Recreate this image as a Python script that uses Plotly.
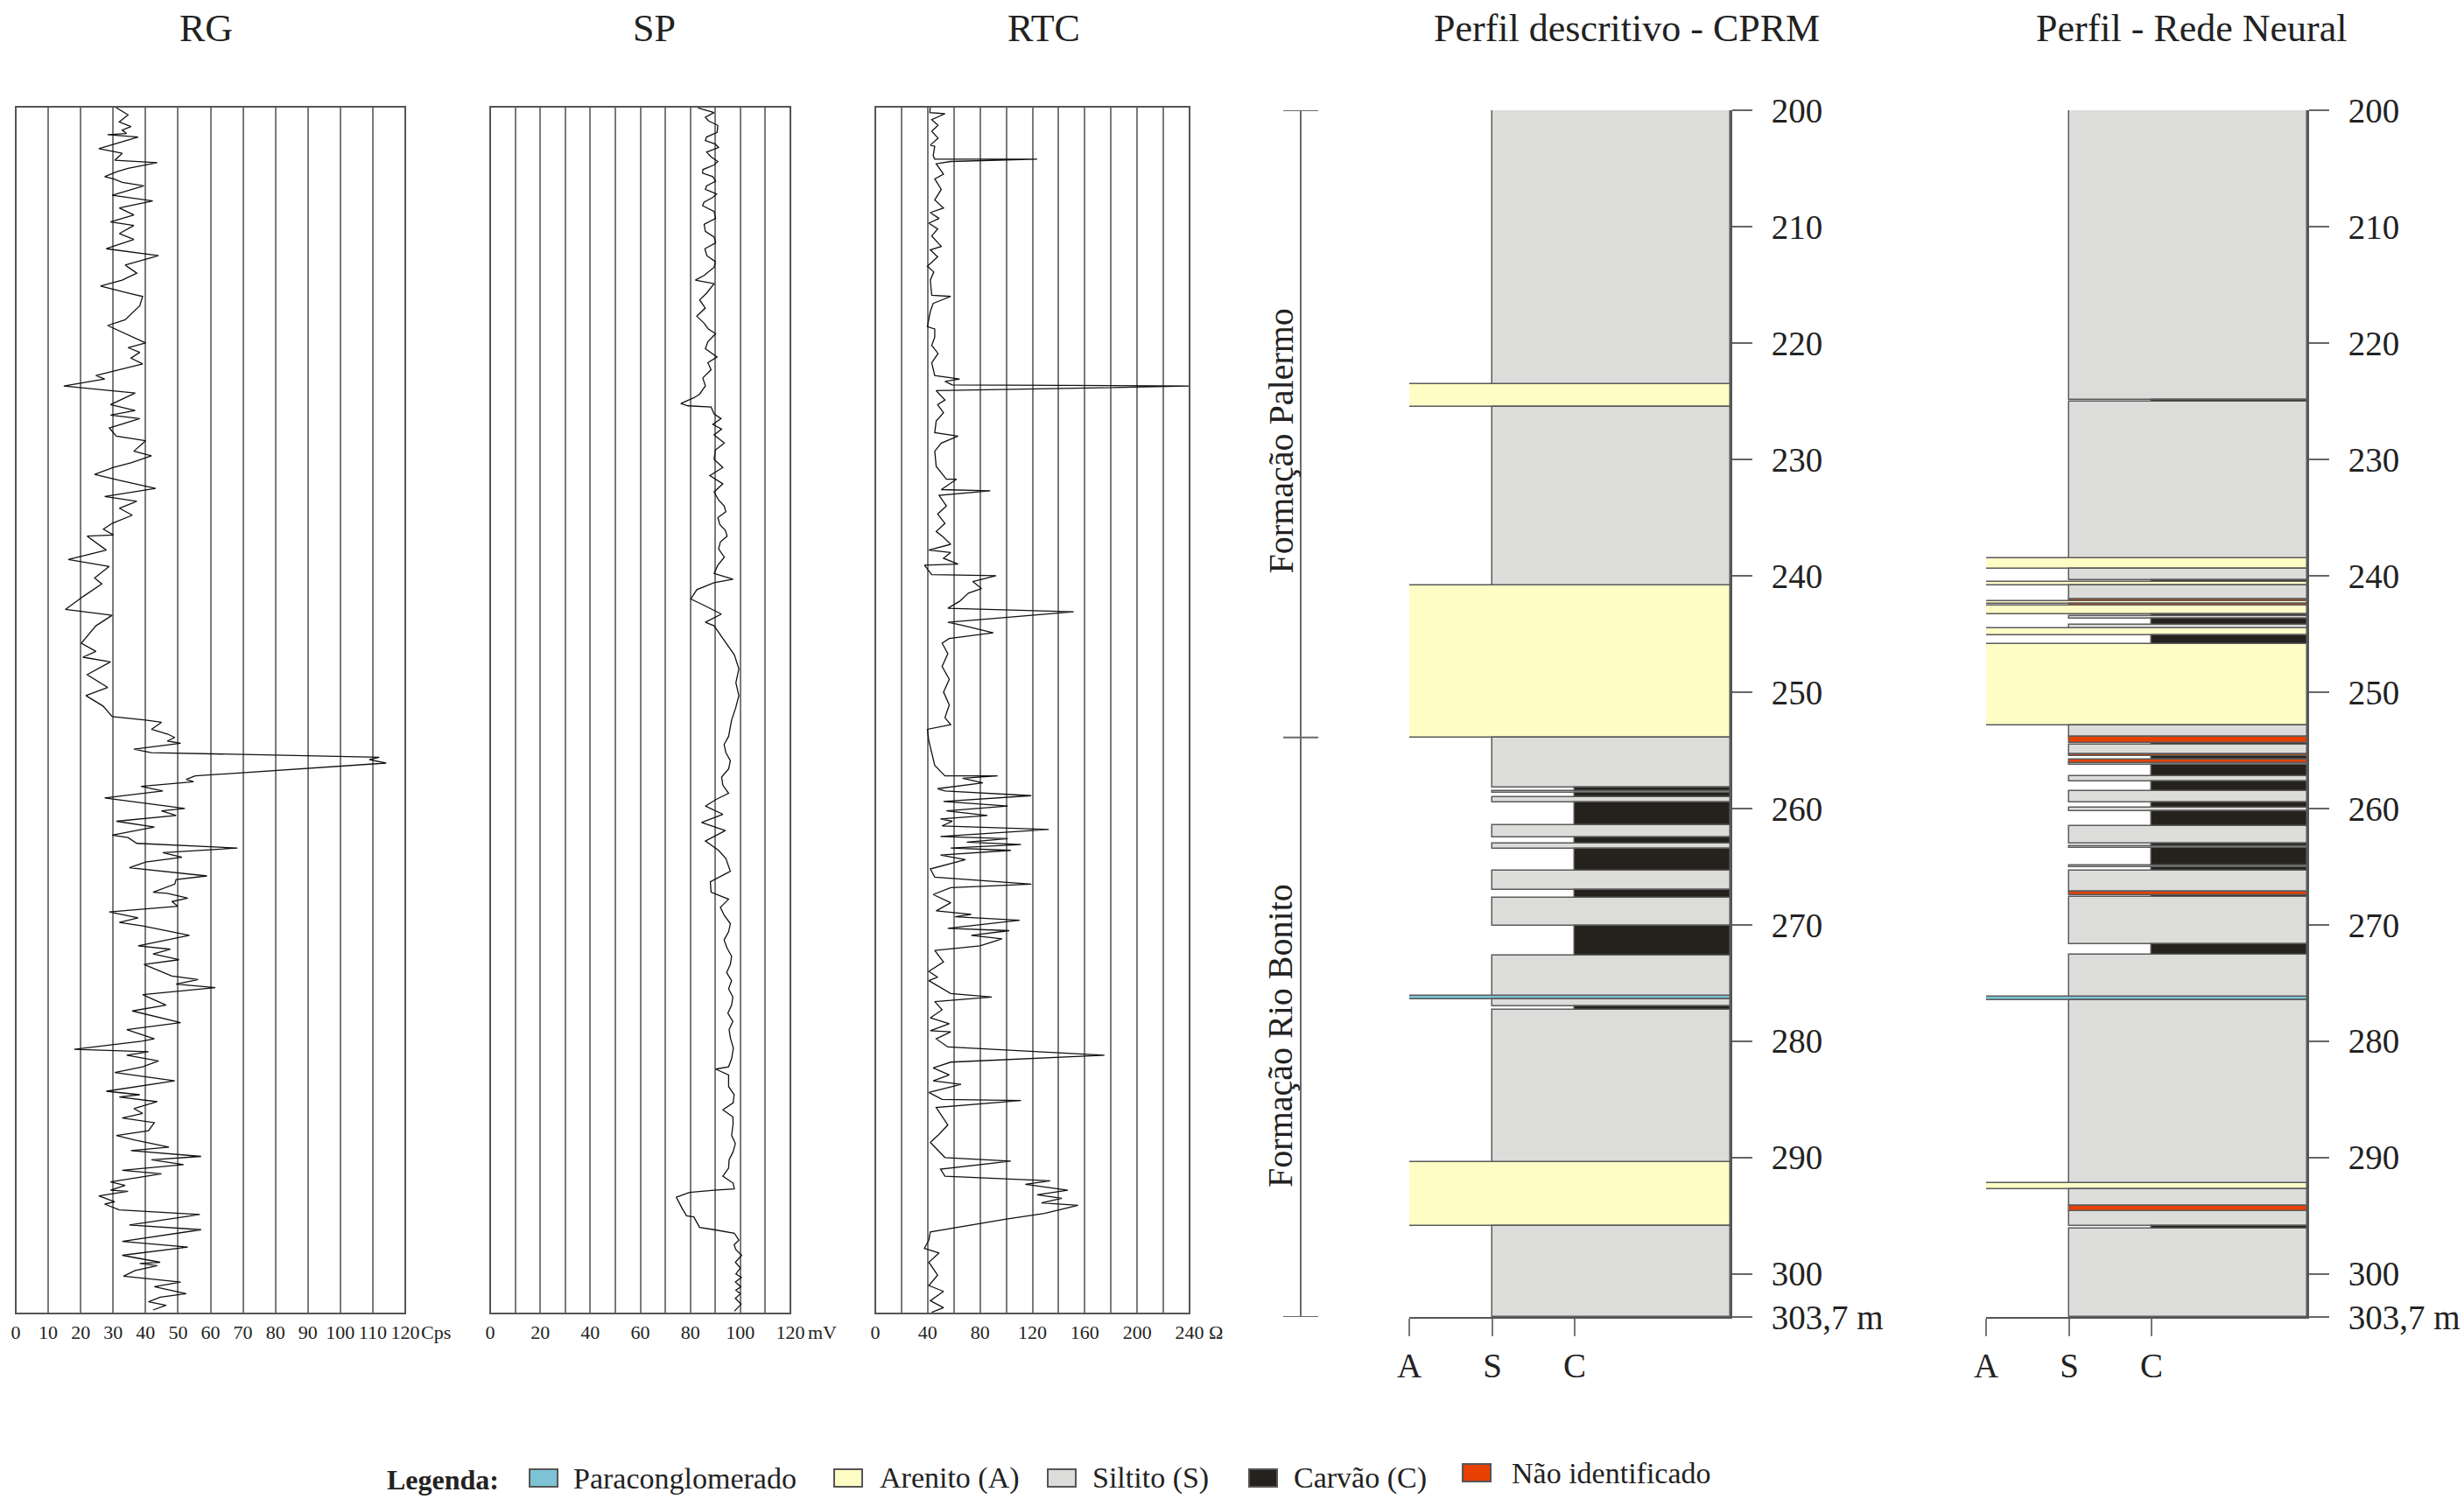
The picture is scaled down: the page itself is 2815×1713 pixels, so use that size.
import plotly.graph_objects as go

W, H = 2815, 1713
FONT = "Liberation Serif"
INK = "#222222"

# ---------------- log data (depth m, value) ----------------
rg_depth = [200.0, 200.7, 201.3, 201.7, 202.0, 202.3, 202.4, 202.6, 203.6, 204.0, 204.6, 204.8, 205.3, 205.6,
            206.0, 206.2, 206.5, 206.8, 207.6, 208.1, 208.7, 209.3, 209.9, 210.2, 210.9, 211.4, 212.2, 212.8,
            213.6, 214.3, 214.9, 215.4, 216.0, 216.3, 217.1, 218.3, 218.8, 220.3, 220.7, 221.1, 221.6, 222.1,
            223.1, 223.4, 224.0, 224.6, 225.6, 226.1, 226.5, 226.8, 227.6, 228.3, 228.7, 229.6, 230.0, 230.6,
            231.0, 231.6, 232.1, 232.8, 233.5, 233.9, 234.5, 235.1, 235.8, 236.3, 236.8, 236.9, 238.1, 238.9,
            239.5, 240.5, 241.0, 242.1, 243.2, 243.7, 244.6, 246.1, 246.8, 247.3, 247.7, 248.8, 249.9, 250.6,
            251.5, 252.4, 252.7, 252.9, 253.5, 253.9, 254.2, 254.5, 254.7, 255.2, 255.5, 255.9, 256.1, 256.4,
            257.5, 257.8, 258.0, 258.4, 258.8, 259.4, 260.3, 260.5, 260.9, 261.4, 261.9, 262.6, 262.8, 263.3,
            263.7, 264.1, 264.5, 264.9, 265.4, 265.8, 266.1, 266.4, 266.8, 267.5, 267.6, 268.0, 268.3, 268.7,
            269.2, 269.7, 270.1, 270.4, 271.2, 272.1, 272.4, 272.8, 273.3, 273.7, 274.7, 275.0, 275.4, 275.7,
            276.3, 277.2, 277.7, 278.7, 279.3, 280.1, 280.3, 281.0, 281.2, 281.5, 282.0, 282.5, 283.0, 283.7,
            284.6, 284.9, 285.1, 285.5, 286.1, 286.5, 286.9, 287.3, 288.0, 288.4, 288.8, 289.4, 289.7, 290.2,
            290.5, 290.9, 291.4, 291.7, 292.4, 292.7, 293.1, 293.2, 293.6, 294.1, 294.3, 294.8, 295.2, 296.1,
            296.5, 297.5, 298.0, 298.7, 299.3, 299.4, 299.6, 300.0, 300.5, 301.0, 301.4, 302.0, 302.3, 302.7,
            303.0, 303.4]
rg_value = [30.5, 34.6, 31.9, 35.5, 32.8, 34.1, 28.3, 37.7, 25.6, 32.8, 30.5, 43.6, 34.6, 31.0,
            27.4, 30.1, 32.8, 39.5, 29.7, 42.2, 31.9, 36.4, 29.2, 36.4, 31.9, 36.4, 27.9, 44.0,
            33.7, 37.3, 32.8, 26.1, 34.6, 39.1, 38.2, 33.7, 28.3, 40.0, 34.6, 38.2, 35.5, 39.1,
            24.7, 27.4, 14.8, 36.8, 29.2, 36.8, 29.2, 38.2, 28.8, 31.0, 40.0, 36.4, 41.8, 35.5,
            30.1, 24.3, 31.9, 43.1, 27.4, 37.3, 31.9, 35.9, 29.7, 27.0, 30.1, 22.0, 27.9, 16.2,
            28.8, 24.3, 26.5, 20.7, 15.3, 29.7, 24.7, 20.2, 24.7, 20.7, 29.2, 22.0, 28.3, 21.6,
            26.9, 29.7, 40.0, 44.9, 41.8, 46.7, 49.0, 46.7, 50.8, 36.4, 41.8, 112.0, 108.9, 114.1,
            55.3, 52.5, 54.8, 38.6, 45.3, 27.4, 52.1, 44.9, 49.4, 31.0, 42.7, 29.7, 34.6, 37.3,
            68.3, 45.3, 51.2, 40.0, 35.0, 49.0, 58.9, 49.4, 49.0, 42.3, 46.7, 53.0, 48.1, 49.9,
            28.8, 37.7, 31.9, 39.1, 53.5, 37.7, 47.6, 42.3, 50.3, 39.5, 48.1, 56.2, 49.4, 61.5,
            39.1, 46.3, 35.9, 50.8, 34.2, 42.7, 38.7, 18.0, 40.9, 34.2, 44.0, 39.1, 30.5, 49.0,
            27.9, 38.2, 31.9, 43.6, 36.4, 39.1, 32.8, 42.7, 40.9, 31.0, 36.8, 47.2, 35.5, 57.1,
            41.8, 51.7, 32.8, 44.9, 29.2, 33.7, 29.2, 34.6, 25.6, 30.5, 27.4, 31.9, 56.7, 35.0,
            57.1, 32.8, 53.0, 32.8, 44.5, 38.2, 43.6, 36.8, 33.2, 50.8, 42.7, 52.5, 44.5, 40.9,
            46.3, 42.3]

sp_depth = [200.1, 200.5, 200.9, 201.2, 201.6, 202.2, 202.6, 202.9, 203.2, 203.5, 203.9, 204.3, 204.7, 205.0,
            205.4, 205.7, 206.0, 206.4, 206.8, 207.1, 207.5, 207.8, 208.2, 208.5, 209.0, 209.6, 210.1, 210.7,
            211.2, 211.7, 212.2, 212.8, 213.3, 213.8, 214.5, 214.9, 215.2, 216.0, 216.6, 217.3, 218.0, 218.6,
            219.1, 219.5, 220.2, 220.8, 221.5, 222.0, 222.6, 223.3, 224.0, 224.7, 225.0, 225.5, 225.7, 225.8,
            226.4, 226.8, 227.3, 227.7, 228.2, 228.9, 229.5, 230.3, 231.0, 231.7, 232.4, 233.1, 233.8, 234.3,
            234.8, 235.3, 235.9, 236.4, 236.9, 237.4, 238.0, 238.7, 239.4, 240.1, 240.6, 240.9, 241.5, 242.3,
            242.9, 243.6, 244.3, 244.6, 245.7, 246.4, 247.1, 248.3, 249.5, 250.6, 251.6, 252.7, 254.1, 254.8,
            255.5, 256.2, 256.9, 257.6, 258.3, 259.0, 259.5, 260.1, 260.8, 261.5, 262.2, 263.1, 263.9, 264.6,
            265.7, 266.6, 267.5, 268.1, 268.8, 269.5, 270.2, 270.9, 271.6, 272.3, 273.0, 273.7, 274.4, 275.1,
            275.8, 276.5, 277.2, 277.9, 278.6, 279.3, 280.0, 280.9, 281.8, 282.5, 282.7, 283.2, 284.2, 284.9,
            285.6, 286.2, 286.8, 287.4, 288.4, 289.1, 289.8, 290.5, 291.2, 291.9, 292.5, 293.0, 293.1, 293.3,
            293.7, 294.7, 295.3, 295.4, 296.0, 296.3, 296.5, 296.8, 297.4, 297.8, 298.2, 298.7, 299.3, 299.8,
            300.3, 300.6, 301.0, 301.4, 301.7, 302.0, 302.4, 302.9, 303.5]
sp_value = [83.1, 89.5, 86.0, 87.2, 91.0, 90.7, 86.5, 86.0, 90.0, 91.3, 86.5, 88.3, 91.0, 89.5,
            85.0, 84.9, 89.0, 90.1, 86.5, 86.0, 90.5, 88.9, 85.5, 84.9, 89.5, 90.1, 85.5, 86.0,
            89.5, 90.1, 85.8, 86.6, 90.0, 89.5, 85.5, 82.0, 89.5, 86.6, 83.7, 86.0, 82.6, 85.5,
            87.2, 90.1, 87.0, 86.0, 90.7, 87.0, 88.3, 85.0, 86.0, 83.7, 81.5, 76.2, 79.1, 88.3,
            89.5, 92.3, 89.0, 92.5, 89.5, 93.6, 90.0, 89.5, 93.0, 87.8, 93.0, 89.5, 91.3, 93.5,
            94.2, 91.0, 91.8, 94.0, 94.7, 92.0, 91.3, 93.6, 91.0, 89.5, 97.1, 89.5, 82.6, 80.2,
            86.0, 92.4, 86.0, 89.5, 93.0, 95.3, 97.6, 99.4, 98.2, 99.4, 98.2, 96.5, 95.3, 93.5,
            94.2, 96.0, 95.3, 92.5, 93.0, 95.3, 90.5, 86.0, 93.0, 84.5, 94.0, 86.0, 91.3, 94.2,
            96.0, 88.0, 88.3, 95.3, 92.0, 93.6, 96.0, 95.3, 93.5, 94.7, 96.5, 96.0, 94.5, 96.5,
            95.3, 97.0, 96.5, 95.0, 97.0, 95.5, 96.0, 97.2, 96.5, 95.3, 90.1, 95.3, 95.3, 97.5,
            97.1, 93.0, 97.0, 97.1, 96.5, 98.0, 97.1, 95.5, 95.3, 93.0, 97.1, 97.6, 89.5, 79.7,
            74.4, 76.8, 78.5, 81.4, 83.1, 83.7, 89.5, 97.6, 99.4, 97.5, 98.2, 100.5, 98.0, 100.0,
            98.2, 100.4, 98.0, 100.2, 98.2, 100.0, 98.0, 100.3, 97.6]

rtc_depth = [200.0, 200.5, 200.6, 201.1, 201.6, 202.1, 202.7, 203.3, 203.4, 204.2, 204.5, 204.5, 204.7, 204.9,
             205.8, 206.2, 207.1, 208.0, 208.7, 209.1, 209.6, 210.0, 210.5, 211.1, 212.0, 212.3, 212.9, 213.7,
             214.2, 214.9, 216.2, 216.3, 216.9, 217.6, 218.9, 219.1, 219.8, 220.5, 221.2, 222.0, 223.1, 223.4,
             223.6, 223.9, 224.0, 224.4, 225.2, 225.6, 226.3, 227.0, 228.0, 228.3, 228.9, 229.6, 230.9, 232.0,
             232.0, 232.9, 233.0, 233.4, 234.3, 235.0, 235.8, 236.5, 237.0, 237.6, 238.1, 238.3, 238.8, 239.3,
             239.4, 240.2, 240.3, 240.8, 241.4, 241.8, 242.5, 243.1, 243.4, 244.3, 244.5, 245.2, 245.7, 246.1,
             247.0, 248.1, 249.2, 250.3, 251.4, 252.5, 253.1, 253.5, 254.5, 255.6, 256.6, 257.5, 257.5, 257.7,
             258.1, 258.6, 258.8, 259.2, 259.7, 260.1, 260.5, 260.9, 261.2, 261.4, 261.8, 262.1, 262.7, 262.9,
             263.2, 263.4, 263.7, 263.9, 264.3, 264.7, 265.5, 266.2, 266.8, 267.1, 267.7, 268.4, 269.1, 269.4,
             269.6, 269.9, 270.6, 270.8, 271.2, 271.5, 272.1, 272.5, 273.5, 274.3, 274.8, 275.1, 276.2, 276.5,
             276.9, 277.6, 278.3, 278.8, 279.4, 279.5, 280.1, 280.8, 281.5, 282.1, 282.6, 283.2, 283.7, 284.0,
             284.7, 285.3, 285.4, 286.0, 287.5, 288.3, 289.0, 290.3, 290.6, 291.3, 291.9, 292.3, 292.6, 293.1,
             293.5, 293.8, 294.2, 294.4, 295.1, 295.6, 296.7, 297.4, 298.1, 298.5, 299.3, 300.4, 301.3, 301.8,
             302.6, 303.2, 303.6]
rtc_value = [42.0, 41.6, 53.2, 43.1, 47.9, 43.1, 47.9, 42.0, 45.4, 44.2, 45.4, 123.6, 57.6, 46.5,
             52.1, 45.4, 50.4, 45.4, 52.1, 42.0, 48.7, 40.9, 47.6, 43.1, 50.4, 42.0, 47.6, 39.8,
             44.7, 42.0, 43.1, 57.6, 44.2, 42.0, 39.8, 45.4, 45.4, 43.1, 47.9, 43.1, 45.4, 64.4,
             53.2, 58.8, 242.0, 46.5, 53.2, 47.6, 52.1, 46.5, 45.4, 63.2, 50.4, 45.4, 46.5, 54.3,
             62.1, 50.4, 87.8, 48.7, 54.3, 47.6, 53.2, 46.5, 52.1, 57.6, 40.9, 57.6, 52.1, 63.2,
             37.5, 43.1, 92.3, 74.4, 81.1, 71.1, 64.4, 55.4, 151.5, 55.4, 64.4, 90.1, 56.5, 51.0,
             55.4, 51.0, 56.5, 52.1, 56.5, 53.2, 57.6, 39.8, 40.9, 43.1, 45.4, 53.2, 93.4, 66.6,
             82.2, 47.6, 53.2, 119.1, 52.1, 101.2, 54.3, 85.6, 49.8, 58.8, 51.0, 132.5, 49.8, 101.2,
             69.9, 111.3, 57.6, 103.5, 49.8, 68.8, 42.0, 45.4, 119.1, 57.6, 44.2, 57.6, 46.5, 73.3,
             61.0, 110.2, 55.4, 102.3, 73.3, 96.8, 80.0, 45.4, 52.1, 40.9, 47.6, 40.9, 57.6, 88.9,
             45.4, 51.0, 42.0, 56.5, 42.0, 57.6, 46.5, 55.4, 175.0, 57.6, 44.2, 56.5, 44.2, 65.5,
             40.9, 51.0, 111.3, 46.5, 55.4, 48.7, 42.0, 53.2, 103.5, 49.8, 53.2, 133.6, 114.6, 147.0,
             123.6, 142.5, 126.9, 154.9, 129.2, 99.0, 42.0, 40.9, 37.5, 48.7, 40.9, 47.6, 40.9, 52.1,
             42.0, 52.1, 43.1]

# ---------------- axis ticks ----------------
rg_ticks = list(range(0, 121, 10))
rg_ticktext = [str(v) for v in rg_ticks]
sp_ticks = list(range(0, 121, 10))
sp_ticktext = [str(v) if v % 20 == 0 else "" for v in sp_ticks]
rtc_ticks = list(range(0, 241, 20))
rtc_ticktext = [str(v) if v % 40 == 0 else "" for v in rtc_ticks]
depth_ticks = [200, 210, 220, 230, 240, 250, 260, 270, 280, 290, 300, 303.7]
depth_ticktext = ["200", "210", "220", "230", "240", "250", "260", "270", "280", "290", "300", "303,7 m"]
DEPTH_TOP, DEPTH_BOTTOM = 200.0, 303.7

# ---------------- lithology (top of each layer; base = next top) ----------------
cprm_top = [200.0, 223.5, 225.5, 240.8, 253.9, 258.18, 258.48, 258.68, 259.0, 259.5, 261.47, 262.46, 263.0,
            263.48, 265.35, 266.97, 267.66, 270.12, 272.61, 276.1, 276.4, 277.0, 277.3, 290.4, 295.9]
cprm_lith = ["S", "A", "S", "A", "S", "C", "S", "C", "S", "C", "S", "C", "S",
             "C", "S", "C", "S", "C", "S", "P", "S", "C", "S", "A", "S"]

rn_top = [200.0, 224.86, 225.06, 238.5, 239.4, 240.4, 240.55, 240.8, 242.0, 242.2, 242.4, 242.6, 243.3,
          243.5, 243.7, 244.2, 244.5, 245.1, 245.85, 252.83, 253.83, 254.37, 254.5, 255.37, 255.5, 255.83,
          256.1, 256.23, 257.23, 257.7, 258.5, 259.5, 259.9, 260.23, 261.5, 263.0, 263.23, 263.4, 264.9,
          265.07, 265.33, 267.17, 267.43, 267.63, 271.63, 272.57, 276.17, 276.5, 292.23, 292.73, 294.17,
          294.57, 295.9, 296.07]
rn_lith = ["S", "C", "S", "A", "S", "C", "A", "S", "N", "A", "N", "A", "C",
           "S", "C", "S", "A", "C", "A", "S", "N", "C", "S", "N", "C", "N",
           "S", "C", "S", "C", "S", "C", "S", "C", "S", "C", "S", "C", "S",
           "C", "S", "N", "C", "S", "C", "S", "P", "S", "A", "S", "N",
           "S", "C", "S"]

lith_codes = ["P", "A", "S", "C", "N"]
lith_names = ["Paraconglomerado", "Arenito (A)", "Siltito (S)", "Carvão (C)", "Não identificado"]
lith_colors = ["#7DC3D5", "#FFFDC6", "#DCDCDA", "#25221D", "#E84000"]
col_ticks = [0.0, 0.259, 0.515]
col_ticktext = ["A", "S", "C"]
lith_start = {"P": 0.0, "A": 0.0, "S": 0.259, "C": 0.515, "N": 0.259}

formation_depths = [200.0, 253.9, 303.7]
formation_names = ["Formação Palermo", "Formação Rio Bonito"]

titles = ["RG", "SP", "RTC", "Perfil descritivo - CPRM", "Perfil - Rede Neural"]

# ---------------- figure ----------------
fig = go.Figure()


def px_x(v):
    return v / W


def px_y(v):
    return 1 - v / H


log_style = dict(mode="lines", line=dict(color="#111111", width=1.3), showlegend=False, hoverinfo="skip")
fig.add_trace(go.Scatter(x=rg_value, y=rg_depth, xaxis="x", yaxis="y", **log_style))
fig.add_trace(go.Scatter(x=sp_value, y=sp_depth, xaxis="x2", yaxis="y", **log_style))
fig.add_trace(go.Scatter(x=rtc_value, y=rtc_depth, xaxis="x3", yaxis="y", **log_style))


def add_column(tops, liths, xa, ya):
    bases = tops[1:] + [DEPTH_BOTTOM]
    for code, name, color in zip(lith_codes, lith_names, lith_colors):
        sel = [(t, b) for t, b, l in zip(tops, bases, liths) if l == code]
        if not sel:
            continue
        s = lith_start[code]
        fig.add_trace(go.Bar(
            orientation="h",
            y=[(t + b) / 2 for t, b in sel],
            width=[b - t for t, b in sel],
            base=[s] * len(sel),
            x=[1 - s] * len(sel),
            xaxis=xa, yaxis=ya,
            marker=dict(color=color, line=dict(color="#5a5a5a", width=1.5)),
            name=name, showlegend=False, hoverinfo="skip"))


add_column(cprm_top, cprm_lith, "x4", "y2")
add_column(rn_top, rn_lith, "x5", "y3")

fig.add_trace(go.Scatter(
    x=[0] * len(formation_depths), y=formation_depths, xaxis="x6", yaxis="y2",
    mode="lines+markers", line=dict(color="#6a6a6a", width=2),
    marker=dict(symbol="line-ew", size=40, line=dict(color="#6a6a6a", width=2)),
    showlegend=False, hoverinfo="skip"))

grid = "#7a7a7a"
tickfont_small = dict(family=FONT, size=22, color=INK)
log_axis = dict(showgrid=True, gridcolor=grid, gridwidth=2, zeroline=False, showline=False,
                ticks="", tickfont=tickfont_small, tickmode="array", anchor="y",
                ticklabelstandoff=6, fixedrange=True, automargin=False)

col_y_top, col_y_bot = 126, 1505
log_y_top, log_y_bot = 122, 1501

depth_axis = dict(range=[DEPTH_BOTTOM, DEPTH_TOP], domain=[px_y(col_y_bot), px_y(col_y_top)],
                  side="right", showline=True, linecolor="#555555", linewidth=2,
                  ticks="outside", ticklen=23, tickwidth=2, tickcolor="#666666",
                  tickmode="array", tickvals=depth_ticks, ticktext=depth_ticktext,
                  tickfont=dict(family=FONT, size=39, color=INK), ticklabelstandoff=14,
                  showgrid=False, zeroline=False, automargin=False)
col_axis = dict(range=[0, 1], showgrid=False, zeroline=False, showline=True,
                linecolor="#555555", linewidth=2, ticks="outside", ticklen=20, tickwidth=2,
                tickcolor="#777777", tickmode="array", tickvals=col_ticks, ticktext=col_ticktext,
                tickfont=dict(family=FONT, size=39, color=INK), ticklabelstandoff=0, automargin=False)

fig.update_layout(
    template="none",
    width=W, height=H, margin=dict(l=0, r=0, t=0, b=0, pad=0), autosize=False,
    paper_bgcolor="white", plot_bgcolor="rgba(0,0,0,0)",
    font=dict(family=FONT, color=INK), barmode="overlay", bargap=0, showlegend=False,
    xaxis=dict(domain=[px_x(18), px_x(463)], range=[0, 120], tickvals=rg_ticks, ticktext=rg_ticktext, **log_axis),
    xaxis2=dict(domain=[px_x(560), px_x(903)], range=[0, 120], tickvals=sp_ticks, ticktext=sp_ticktext, **log_axis),
    xaxis3=dict(domain=[px_x(1000), px_x(1359)], range=[0, 240], tickvals=rtc_ticks, ticktext=rtc_ticktext, **log_axis),
    yaxis=dict(domain=[px_y(log_y_bot), px_y(log_y_top)], range=[DEPTH_BOTTOM, DEPTH_TOP], visible=False,
               anchor="x", automargin=False),
    xaxis4=dict(domain=[px_x(1610), px_x(1977)], anchor="y2", **col_axis),
    yaxis2=dict(anchor="x4", **depth_axis),
    xaxis5=dict(domain=[px_x(2269), px_x(2636)], anchor="y3", **col_axis),
    yaxis3=dict(anchor="x5", **depth_axis),
    xaxis6=dict(domain=[px_x(1466), px_x(1506)], range=[-1, 1], anchor="y2", visible=False, automargin=False),
)

for xr in ["x", "x2", "x3"]:
    fig.add_shape(type="rect", xref=f"{xr} domain", yref="y domain", x0=0, x1=1, y0=0, y1=1,
                  line=dict(color="#555555", width=2), layer="above")

for xr, unit, shift in [("x", "Cps", 16), ("x2", "mV", 18), ("x3", "Ω", 20)]:
    fig.add_annotation(xref=f"{xr} domain", yref="y domain", x=1, y=0, xanchor="left", yanchor="middle",
                       xshift=shift, yshift=-21, text=unit, showarrow=False, font=tickfont_small)

title_x = [235, 747, 1192, 1858, 2504]
for t, xp in zip(titles, title_x):
    fig.add_annotation(xref="paper", yref="paper", x=px_x(xp), y=px_y(32), text=t, showarrow=False,
                       xanchor="center", yanchor="middle", font=dict(family=FONT, size=44, color=INK))

formation_label_shift = [-20, -10]
for i, name in enumerate(formation_names):
    mid = (formation_depths[i] + formation_depths[i + 1]) / 2
    fig.add_annotation(xref="paper", yref="y2", x=px_x(1463), y=mid, text=name, textangle=-90,
                       showarrow=False, xanchor="center", yanchor="middle", yshift=formation_label_shift[i],
                       font=dict(family=FONT, size=40, color=INK))

fig.add_annotation(xref="paper", yref="paper", x=px_x(440), y=px_y(1691), text="<b>Legenda:</b>",
                   showarrow=False, xanchor="left", yanchor="middle", font=dict(family=FONT, size=32, color=INK))
leg_box_x = [605, 953, 1197, 1427, 1671]
leg_text_x = [653, 1003, 1246, 1476, 1725]
leg_y = [1689, 1689, 1689, 1689, 1683]
for name, color, bx, tx, ly in zip(lith_names, lith_colors, leg_box_x, leg_text_x, leg_y):
    fig.add_shape(type="rect", xref="paper", yref="paper", x0=px_x(bx), x1=px_x(bx + 32),
                  y0=px_y(ly + 10), y1=px_y(ly - 10), fillcolor=color, line=dict(color="#555555", width=2))
    fig.add_annotation(xref="paper", yref="paper", x=px_x(tx), y=px_y(ly), text=name, showarrow=False,
                       xanchor="left", yanchor="middle", font=dict(family=FONT, size=34, color=INK))

fig.write_html("out.html")
